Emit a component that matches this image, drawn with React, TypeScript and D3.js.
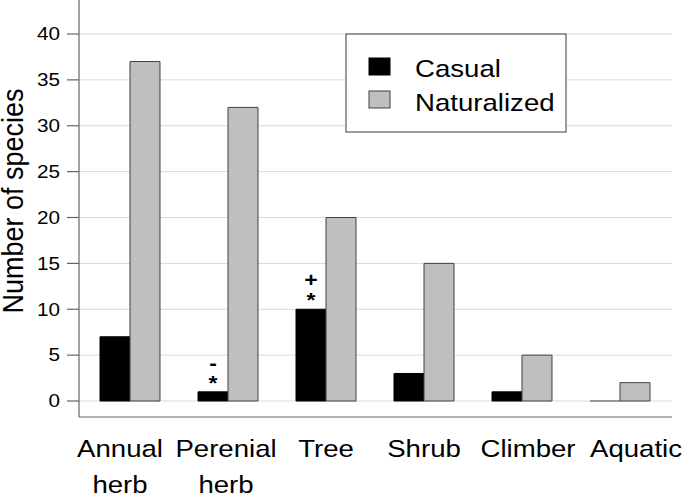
import React from "react";
import * as d3 from "d3";

const categories = ["Annual\nherb", "Perenial\nherb", "Tree", "Shrub", "Climber", "Aquatic"];
const seriesNames = ["Casual", "Naturalized"];
const casual = [7, 1, 10, 3, 1, 0];
const naturalized = [37, 32, 20, 15, 5, 2];
const yTicks = [0, 5, 10, 15, 20, 25, 30, 35, 40];
const annotations = [
  { category: "Perenial\nherb", series: "Casual", upper: "-", lower: "*" },
  { category: "Tree", series: "Casual", upper: "+", lower: "*" },
];

const W = 685;
const H = 495;
const SX = 1.15;
const FONT = "'Liberation Sans', Arial, Helvetica, sans-serif";
const colors: Record<string, string> = { Casual: "#000000", Naturalized: "#bfbfbf" };
const strokes: Record<string, string> = { Casual: "#000000", Naturalized: "#404040" };

export default function App() {
  const left = 79;
  const right = 672;
  const axisBottom = 417;
  // small horizontal nudges of the category labels, as laid out in the original
  const labelNudge = [-10, -2, 0, 0, 6, 16];
  const x0 = d3
    .scaleBand<string>()
    .domain(categories)
    .range([81, 669])
    .paddingInner(0.3878)
    .paddingOuter(0.1939);
  const x1 = d3.scaleBand<string>().domain(seriesNames).range([0, x0.bandwidth()]);
  const y = d3.scaleLinear().domain([0, 40]).range([401, 34]);
  const values: Record<string, number[]> = { Casual: casual, Naturalized: naturalized };

  return (
    <svg
      width={W}
      height={H}
      style={{ position: "absolute", left: 0, top: 0, background: "#fff" }}
      fontFamily={FONT}
    >
      <rect x={0} y={0} width={W} height={H} fill="#fff" />
      {yTicks.map((t) => (
        <line key={"g" + t} x1={left} x2={right} y1={y(t)} y2={y(t)} stroke="#d9d9d9" strokeWidth={1} />
      ))}
      {categories.map((c, i) =>
        seriesNames.map((s) => {
          const v = values[s][i];
          const bx = (x0(c) as number) + (x1(s) as number);
          const bw = x1.bandwidth();
          const top = y(v);
          const h = y(0) - top;
          const p = d3.path();
          p.rect(bx, top, bw, h);
          return (
            <path
              key={c + s}
              d={h > 0 ? p.toString() : `M${bx},${top}h${bw}`}
              fill={colors[s]}
              stroke={h > 0 ? strokes[s] : "#404040"}
              strokeWidth={1}
            />
          );
        })
      )}
      {annotations.map((a) => {
        const i = categories.indexOf(a.category);
        const v = values[a.series][i];
        const cx = (x0(a.category) as number) + (x1(a.series) as number) + x1.bandwidth() / 2;
        const top = y(v);
        return (
          <g key={"a" + a.category}>
            <text
              transform={`translate(${cx},${top - 22}) scale(${SX},1)`}
              textAnchor="middle"
              fontSize={20}
              fontWeight="bold"
              fill="#000"
            >
              {a.upper}
            </text>
            <text
              transform={`translate(${cx},${top - 2}) scale(${SX},1)`}
              textAnchor="middle"
              fontSize={20}
              fontWeight="bold"
              fill="#000"
            >
              {a.lower}
            </text>
          </g>
        );
      })}
      <line x1={left} x2={left} y1={0} y2={axisBottom} stroke="#666" strokeWidth={1.2} />
      <line x1={left} x2={right} y1={axisBottom} y2={axisBottom} stroke="#666" strokeWidth={1.2} />
      {yTicks.map((t) => (
        <g key={"t" + t}>
          <line x1={67} x2={left} y1={y(t)} y2={y(t)} stroke="#666" strokeWidth={1.2} />
          <text
            transform={`translate(60,${y(t)}) scale(${SX},1)`}
            textAnchor="end"
            dy="0.35em"
            fontSize={18}
            fill="#000"
          >
            {t}
          </text>
        </g>
      ))}
      {categories.map((c, i) => {
        const cx = (x0(c) as number) + x0.bandwidth() / 2 + labelNudge[i];
        return c.split("\n").map((line, j) => (
          <text
            key={c + j}
            transform={`translate(${cx},${457 + j * 35.5}) scale(${SX},1)`}
            textAnchor="middle"
            fontSize={24}
            fill="#000"
          >
            {line}
          </text>
        ));
      })}
      <text
        transform={`translate(23,201) scale(1.08,1) rotate(-90)`}
        textAnchor="middle"
        fontSize={27}
        fill="#000"
      >
        Number of species
      </text>
      <rect x={346} y={34} width={220} height={98} fill="#fff" stroke="#595959" strokeWidth={1.2} />
      {seriesNames.map((s, i) => (
        <g key={"l" + s}>
          <rect
            x={369}
            y={58 + i * 33}
            width={21}
            height={17}
            fill={colors[s]}
            stroke={strokes[s]}
            strokeWidth={1}
          />
          <text
            transform={`translate(415,${77 + i * 34}) scale(${SX},1)`}
            fontSize={24}
            fill="#000"
          >
            {s}
          </text>
        </g>
      ))}
    </svg>
  );
}
